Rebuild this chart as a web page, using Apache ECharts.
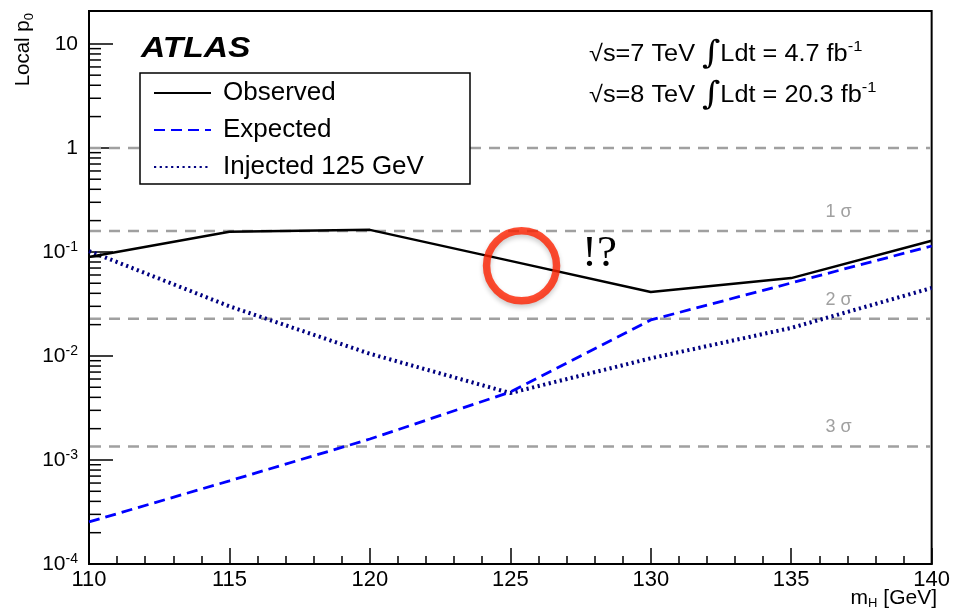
<!DOCTYPE html>
<html>
<head>
<meta charset="utf-8">
<script src="https://cdn.jsdelivr.net/npm/echarts@6/dist/echarts.min.js"></script>
<style>
html,body{margin:0;padding:0;background:#fff;}
#chart{width:953px;height:610px;}
</style>
</head>
<body>
<div id="chart"></div>
<script>
// ---- data ----
const massPoints = [110, 115, 120, 125, 130, 135, 140];
const observedP0 = [0.0895, 0.156, 0.163, 0.082, 0.0412, 0.056, 0.128];
const expectedP0 = [2.54e-4, 6.3e-4, 1.59e-3, 4.5e-3, 0.0222, 0.0503, 0.114];
const injectedP0 = [0.102, 0.030, 0.0105, 0.0044, 0.0095, 0.0186, 0.045];
const sigmaLevels = [1, 0.1587, 0.02275, 0.00135];
const sigmaLabels = ['', '1 σ', '2 σ', '3 σ'];
const yMinorTicks = [];
for (let e = -4; e <= 1; e++) for (let m = 2; m <= 9; m++) { const v = m * Math.pow(10, e); if (v < 20) yMinorTicks.push(v); }
const circleMark = [[125.4, 0.0735]];

const FONT = '"Liberation Sans", Arial, Helvetica, sans-serif';
const chart = echarts.init(document.getElementById('chart'));

function pair(xs, ys) { return xs.map((x, i) => [x, ys[i]]); }

const option = {
  animation: false,
  backgroundColor: '#fff',
  grid: { left: 89, right: 16, top: 11, bottom: 46, show: true, borderColor: '#000', borderWidth: 2, backgroundColor: 'transparent' },
  xAxis: {
    type: 'value', min: 110, max: 140, interval: 5,
    axisLine: { show: true, onZero: false, lineStyle: { color: '#000', width: 2 } },
    axisTick: { show: true, inside: true, length: 16, lineStyle: { color: '#000', width: 1.5 } },
    minorTick: { show: true, splitNumber: 5, length: 8, lineStyle: { color: '#000', width: 1.5 } },
    splitLine: { show: false },
    axisLabel: { color: '#000', fontSize: 22, fontFamily: FONT, margin: 5 }
  },
  yAxis: {
    type: 'log', logBase: 10, min: 1e-4, max: 20.7,
    axisLine: { show: true, lineStyle: { color: '#000', width: 2 } },
    axisTick: { show: true, inside: true, length: 24, lineStyle: { color: '#000', width: 1.5 } },
    splitLine: { show: false },
    axisLabel: {
      color: '#000', fontSize: 21, fontFamily: FONT, margin: 11,
      formatter: function (v) {
        const e = Math.log10(v);
        const r = Math.round(e);
        if (Math.abs(e - r) > 1e-6) return '';
        if (r === 1) return '10';
        if (r === 0) return '1';
        return '10{s|' + r + '}';
      },
      rich: { s: { fontSize: 14, fontFamily: FONT, color: '#000', verticalAlign: 'top', padding: [0, 0, 10, 0] } }
    }
  },
  legend: {
    orient: 'vertical', left: 148, top: 75, itemGap: 11, z: 6,
    itemWidth: 57, itemHeight: 26,
    itemStyle: { opacity: 0, color: 'rgba(0,0,0,0)', borderWidth: 0 },
    textStyle: { fontSize: 26, fontFamily: FONT, color: '#000', padding: [0, 0, 0, 7] },
    data: ['Observed', 'Expected', 'Injected 125 GeV']
  },
  series: [
    {
      name: 'Observed', type: 'line', data: pair(massPoints, observedP0), symbol: 'none',
      lineStyle: { color: '#000', width: 2.5 }, itemStyle: { color: '#000' }, z: 5
    },
    {
      name: 'Expected', type: 'line', data: pair(massPoints, expectedP0), symbol: 'none',
      lineStyle: { color: '#0000ff', width: 2.8, type: [11, 6] }, itemStyle: { color: '#0000ff' }, z: 4
    },
    {
      name: 'Injected 125 GeV', type: 'line', data: pair(massPoints, injectedP0), symbol: 'none',
      lineStyle: { color: '#000080', width: 4, type: [2.2, 3.5] }, itemStyle: { color: '#000080' }, z: 3
    },
    {
      name: 'sigmaLines', type: 'custom', silent: true, clip: false, z: 2,
      data: sigmaLevels.map((v, i) => [v, i]),
      renderItem: function (params, api) {
        const v = api.value(0);
        const i = api.value(1);
        const a = api.coord([110, v]);
        const b = api.coord([140, v]);
        const children = [{
          type: 'line', shape: { x1: a[0] + 1, y1: a[1], x2: b[0] - 1, y2: b[1] },
          style: { stroke: '#a0a0a0', lineWidth: 2.5, lineDash: [11, 8] }
        }];
        if (sigmaLabels[i]) {
          children.push({
            type: 'text', x: b[0] - 80, y: a[1] - 19,
            style: { text: sigmaLabels[i], fill: '#a0a0a0', fontSize: 18, fontFamily: FONT, align: 'right', verticalAlign: 'middle' }
          });
        }
        return { type: 'group', children: children };
      }
    },
    {
      name: 'minorTicks', type: 'custom', silent: true, clip: false,
      data: yMinorTicks.map(v => [110, v]),
      renderItem: function (params, api) {
        const p = api.coord([110, api.value(1)]);
        return { type: 'line', shape: { x1: p[0], y1: p[1], x2: p[0] + 12, y2: p[1] }, style: { stroke: '#000', lineWidth: 1.5 } };
      },
      z: 6
    },
    {
      name: 'circle', type: 'scatter', data: circleMark, symbol: 'circle', symbolSize: 70, silent: true,
      itemStyle: { color: 'rgba(0,0,0,0)', borderColor: '#ff2200', borderWidth: 7.5, shadowBlur: 5, shadowColor: 'rgba(0,0,0,0.25)', shadowOffsetY: 3 },
      z: 10
    }
  ],
  graphic: [
    { type: 'rect', shape: { x: 140, y: 73, width: 330, height: 111 }, style: { fill: '#fff', stroke: '#000', lineWidth: 1.5 }, z: 5 },
    { type: 'text', x: 141, y: 49, scaleX: 1.12, style: { text: 'ATLAS', font: 'italic bold 30px ' + FONT, fill: '#000', verticalAlign: 'middle' }, z: 20 },
    { type: 'text', x: 589, y: 55, scaleX: 1.1, style: {
        text: '√s=7 TeV {i|∫}Ldt = 4.7 fb{s|-1}', fill: '#000', fontSize: 23, fontFamily: FONT, verticalAlign: 'middle',
        rich: { s: { fontSize: 15, fontFamily: FONT, verticalAlign: 'top', padding: [0, 0, 12, 0] }, i: { fontSize: 32, fontFamily: '"DejaVu Serif", serif' } } }, z: 20 },
    { type: 'text', x: 589, y: 96, scaleX: 1.1, style: {
        text: '√s=8 TeV {i|∫}Ldt = 20.3 fb{s|-1}', fill: '#000', fontSize: 23, fontFamily: FONT, verticalAlign: 'middle',
        rich: { s: { fontSize: 15, fontFamily: FONT, verticalAlign: 'top', padding: [0, 0, 12, 0] }, i: { fontSize: 32, fontFamily: '"DejaVu Serif", serif' } } }, z: 20 },
    { type: 'text', x: 582, y: 254, style: { text: '!?', font: '45px "Liberation Serif", "DejaVu Serif", serif', fill: '#000', verticalAlign: 'middle' }, z: 20 },
    { type: 'text', x: 23, y: 13, rotation: Math.PI / 2, style: {
        text: 'Local p{b|0}', fill: '#000', fontSize: 20.5, fontFamily: FONT, align: 'right', verticalAlign: 'middle',
        rich: { b: { fontSize: 13, fontFamily: FONT, verticalAlign: 'bottom', padding: [12, 0, 0, 0] } } }, z: 20 },
    { type: 'text', x: 937, y: 598, style: {
        text: 'm{b|H} [GeV]', fill: '#000', fontSize: 21, fontFamily: FONT, align: 'right', verticalAlign: 'middle',
        rich: { b: { fontSize: 13, fontFamily: FONT, verticalAlign: 'bottom', padding: [10, 0, 0, 0] } } }, z: 20 }
  ]
};
chart.setOption(option);
</script>
</body>
</html>
